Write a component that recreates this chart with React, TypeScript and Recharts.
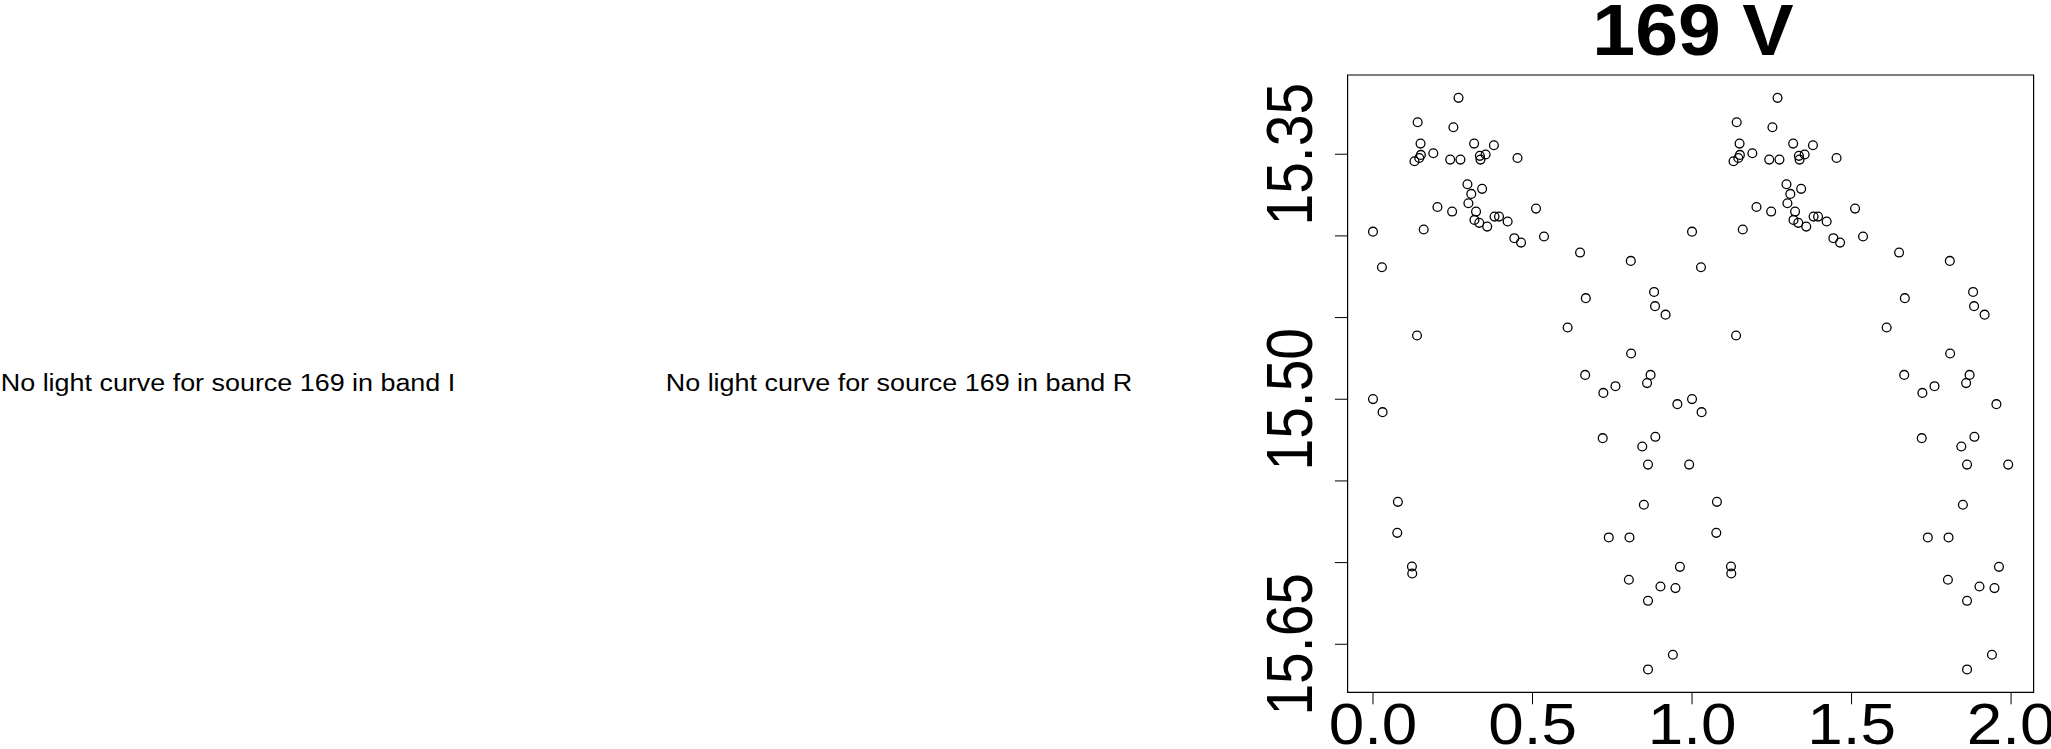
import React from 'react';
import { ScatterChart, Scatter, XAxis, YAxis, ReferenceArea } from 'recharts';

// phase-folded V band light curve, one cycle (plotted twice, shifted by 1)
const phase = [
  0.268, 0.14, 0.252, 0.149, 0.317, 0.379, 0.189, 0.15, 0.145, 0.13,
  0.242, 0.274, 0.335, 0.353, 0.337, 0.453, 0.296, 0.342, 0.308, 0.299,
  0.202, 0.248, 0.323, 0.318, 0.333, 0.358, 0.381, 0.395, 0.422, 0.511,
  0.443, 0.464, 0.0, 0.159, 0.028, 0.138, 0.536, 0.649, 0.808, 0.881,
  0.667, 0.884, 0.917, 0.61, 0.809, 0.665, 0.87, 0.0, 0.03, 0.078,
  0.076, 0.122, 0.123, 0.859, 0.722, 0.76, 0.954, 0.72, 0.885, 0.844,
  0.862, 0.991, 0.849, 0.739, 0.804, 0.962, 0.802, 0.901, 0.948, 0.862,
  0.94, 0.862,
];
const mag = [
  15.3155, 15.3304, 15.3335, 15.3435, 15.3435, 15.3445, 15.3494, 15.3504, 15.3523, 15.3543,
  15.3533, 15.3533, 15.351, 15.3502, 15.3533, 15.3523, 15.3684, 15.3712, 15.3743, 15.38,
  15.3823, 15.3851, 15.3851, 15.3902, 15.392, 15.3943, 15.3882, 15.3882, 15.3912, 15.3833,
  15.4014, 15.4041, 15.3974, 15.3961, 15.4192, 15.461, 15.4004, 15.4102, 15.4153, 15.4343,
  15.4381, 15.443, 15.4482, 15.4561, 15.472, 15.4851, 15.4851, 15.4999, 15.5079, 15.5628,
  15.5818, 15.6024, 15.6067, 15.4901, 15.4961, 15.492, 15.503, 15.5238, 15.523, 15.5289,
  15.54, 15.54, 15.5646, 15.5846, 15.5846, 15.6026, 15.6105, 15.6146, 15.6156, 15.6234,
  15.6564, 15.6654,
];

const xTicks = [0, 0.5, 1, 1.5, 2];
const yTicks = [15.35, 15.4, 15.45, 15.5, 15.55, 15.6, 15.65];
const yLabelled = [15.35, 15.5, 15.65];
const title = '169 V';
const noCurve = [
  'No light curve for source 169 in band I',
  'No light curve for source 169 in band R',
];

const FONT = '"Liberation Sans", Arial, Helvetica, sans-serif';
const STRETCH = 1.12;
const AXIS_FONT = 57;

const points = [
  ...phase.map((p, i) => ({ phase: p, mag: mag[i] })),
  ...phase.map((p, i) => ({ phase: p + 1, mag: mag[i] })),
];

const XTick = (props: any) => {
  const { x, payload } = props;
  return (
    <text
      transform={`translate(${x},744) scale(${STRETCH},1)`}
      textAnchor="middle"
      fontSize={AXIS_FONT}
      fontFamily={FONT}
      fill="#000"
    >
      {Number(payload.value).toFixed(1)}
    </text>
  );
};

const YTick = (props: any) => {
  const { y, payload } = props;
  if (!yLabelled.some(v => Math.abs(v - payload.value) < 1e-6)) return <g />;
  const bx = 1289 + 0.358 * AXIS_FONT * 1.15;
  return (
    <text
      transform={`translate(${bx},${y}) scale(1.15,1) rotate(-90)`}
      textAnchor="middle"
      fontSize={AXIS_FONT}
      fontFamily={FONT}
      fill="#000"
    >
      {Number(payload.value).toFixed(2)}
    </text>
  );
};

const Ring = (props: any) => (
  <circle cx={props.cx} cy={props.cy} r={4.4} fill="none" stroke="#000" strokeWidth={1.3} />
);

export default function App() {
  return (
    <div style={{ position: 'absolute', left: 0, top: 0, width: 2051, height: 749, background: '#fff' }}>
      <svg width={2051} height={749} style={{ position: 'absolute', left: 0, top: 0 }}>
        {noCurve.map((t, i) => (
          <text
            key={t}
            transform={`translate(${i === 0 ? 228 : 899},391) scale(1.17,1)`}
            textAnchor="middle"
            fontSize={23}
            fontFamily={FONT}
            fill="#000"
          >
            {t}
          </text>
        ))}
        <text
          transform="translate(1693,55) scale(1.07,1)"
          textAnchor="middle"
          fontSize={72}
          fontWeight="bold"
          fontFamily={FONT}
          fill="#000"
        >
          {title}
        </text>
      </svg>
      <div style={{ position: 'absolute', left: 0, top: 0 }}>
        <ScatterChart
          width={2051}
          height={749}
          margin={{ top: 75, right: 17.4, bottom: 6.7, left: 1287.6 }}
        >
          <XAxis
            type="number"
            dataKey="phase"
            domain={[-0.0796, 2.0706]}
            ticks={xTicks}
            interval={0}
            height={50}
            axisLine={false}
            tickSize={12}
            tickLine={{ stroke: '#000', strokeWidth: 1 }}
            tick={XTick}
            allowDataOverflow
          />
          <YAxis
            type="number"
            dataKey="mag"
            domain={[15.3015, 15.6794]}
            reversed
            ticks={yTicks}
            interval={0}
            width={60}
            axisLine={false}
            tickSize={12.7}
            tickLine={{ stroke: '#000', strokeWidth: 1 }}
            tick={YTick}
            allowDataOverflow
          />
          <ReferenceArea
            x1={-0.0796}
            x2={2.0706}
            y1={15.3015}
            y2={15.6794}
            fill="none"
            stroke="#000"
            strokeWidth={1.2}
            ifOverflow="visible"
          />
          <Scatter data={points} shape={Ring} isAnimationActive={false} />
        </ScatterChart>
      </div>
    </div>
  );
}
